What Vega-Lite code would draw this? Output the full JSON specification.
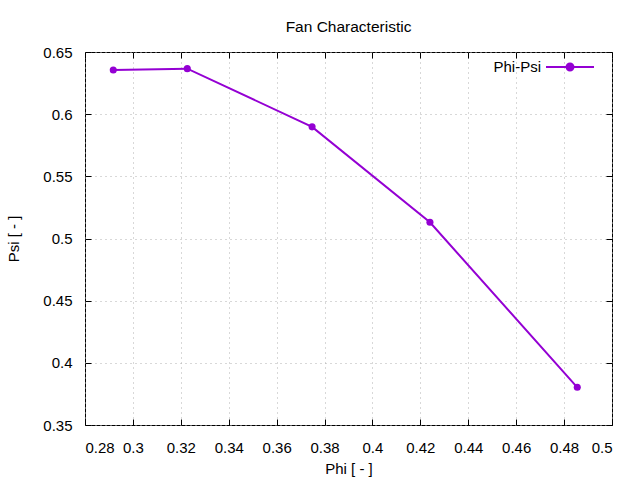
{
  "$schema": "https://vega.github.io/schema/vega-lite/v6.json",
  "width": 527,
  "height": 373,
  "autosize": {"type": "none"},
  "padding": {"left": 85, "top": 52, "right": 28, "bottom": 55},
  "background": "white",
  "title": {
    "text": "Fan Characteristic",
    "font": "Liberation Sans",
    "fontSize": 15.5,
    "fontWeight": "normal",
    "color": "black",
    "offset": 7
  },
  "data": {
    "values": [
      {"phi": 0.2918, "psi": 0.6355, "series": "Phi-Psi"},
      {"phi": 0.3227, "psi": 0.6366, "series": "Phi-Psi"},
      {"phi": 0.3748, "psi": 0.5898, "series": "Phi-Psi"},
      {"phi": 0.4240, "psi": 0.5130, "series": "Phi-Psi"},
      {"phi": 0.4855, "psi": 0.3803, "series": "Phi-Psi"}
    ]
  },
  "encoding": {
    "x": {
      "field": "phi",
      "type": "quantitative",
      "scale": {"domain": [0.28, 0.5], "nice": false, "zero": false}
    },
    "y": {
      "field": "psi",
      "type": "quantitative",
      "scale": {"domain": [0.35, 0.65], "nice": false, "zero": false}
    },
    "color": {
      "field": "series",
      "type": "nominal",
      "scale": {"range": ["#9400d3"]},
      "legend": {
        "title": null,
        "orient": "none",
        "legendX": 460,
        "legendY": -10,
        "symbolType": "M-1,0H1M-0.145,0a0.145,0.145 0 1,0 0.29,0a0.145,0.145 0 1,0 -0.29,0",
        "symbolSize": 2304,
        "symbolStrokeWidth": 2,
        "symbolFillColor": "#9400d3",
        "labelAlign": "right",
        "labelOffset": -54,
        "labelFont": "Liberation Sans",
        "labelFontSize": 15,
        "labelColor": "black"
      }
    }
  },
  "layer": [
    {
      "mark": {"type": "line", "strokeWidth": 2, "clip": true},
      "encoding": {
        "x": {
          "field": "phi",
          "type": "quantitative",
          "title": "Phi [ - ]",
          "axis": {
            "orient": "bottom",
            "values": [0.28, 0.3, 0.32, 0.34, 0.36, 0.38, 0.4, 0.42, 0.44, 0.46, 0.48, 0.5],
            "format": "~g",
            "grid": true,
            "labelPadding": 21,
            "titlePadding": 6
          }
        },
        "y": {
          "field": "psi",
          "type": "quantitative",
          "title": "Psi [ - ]",
          "axis": {
            "orient": "left",
            "values": [0.35, 0.4, 0.45, 0.5, 0.55, 0.6, 0.65],
            "format": "~g",
            "grid": true,
            "labelPadding": 19,
            "titlePadding": 21
          }
        }
      }
    },
    {
      "mark": {"type": "point", "filled": true, "size": 50, "opacity": 1},
      "encoding": {
        "x": {
          "field": "phi",
          "type": "quantitative",
          "axis": {
            "orient": "top",
            "values": [0.28, 0.3, 0.32, 0.34, 0.36, 0.38, 0.4, 0.42, 0.44, 0.46, 0.48, 0.5],
            "labels": false,
            "title": null,
            "grid": false
          }
        },
        "y": {
          "field": "psi",
          "type": "quantitative",
          "axis": {
            "orient": "right",
            "values": [0.35, 0.4, 0.45, 0.5, 0.55, 0.6, 0.65],
            "labels": false,
            "title": null,
            "grid": false
          }
        }
      }
    }
  ],
  "resolve": {"axis": {"x": "independent", "y": "independent"}},
  "config": {
    "view": {"stroke": "black", "strokeWidth": 1},
    "axis": {
      "domain": false,
      "tickSize": -6,
      "tickColor": "black",
      "tickWidth": 1,
      "gridColor": "#b0b0b0",
      "gridDash": [1, 4],
      "gridWidth": 1,
      "labelFont": "Liberation Sans",
      "labelFontSize": 15,
      "labelColor": "black",
      "titleFont": "Liberation Sans",
      "titleFontSize": 15,
      "titleFontWeight": "normal",
      "titleColor": "black"
    }
  }
}
